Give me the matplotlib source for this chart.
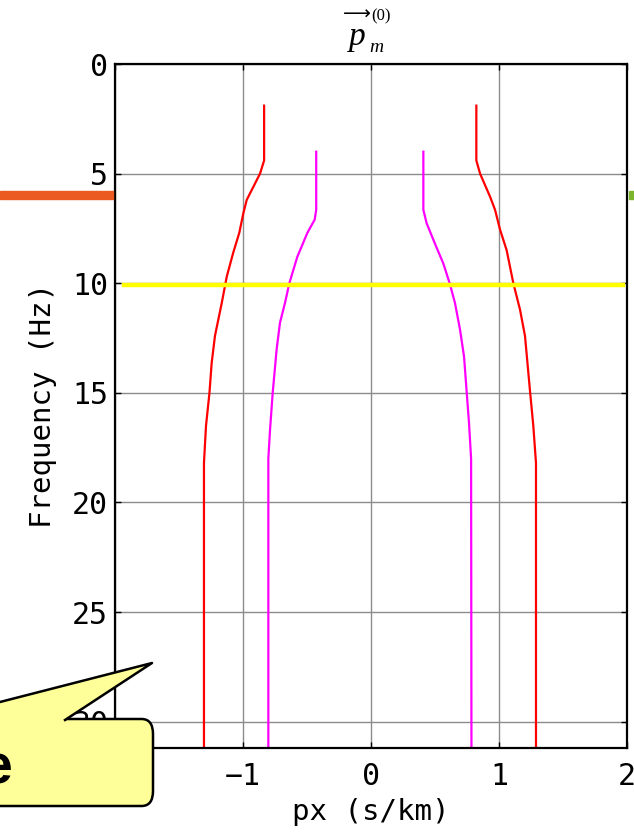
import numpy as np
import matplotlib
matplotlib.use('Agg')
import matplotlib.pyplot as plt
from matplotlib.patches import FancyBboxPatch, Polygon, Rectangle
from matplotlib.lines import Line2D

plt.rcParams['font.family'] = ['DejaVu Sans Mono', 'DejaVu Sans']
plt.rcParams['mathtext.fontset'] = 'stix'

# red branch (outer): frequency (Hz) and px (s/km)
red_f_left = [1.9, 4.4, 5.0, 6.2, 6.8, 7.7, 8.6, 9.7, 10.9, 12.4, 13.65, 15.0, 16.5, 18.2, 32.0]
red_left = [-0.835, -0.835, -0.867, -0.971, -0.997, -1.029, -1.076, -1.127, -1.166,
            -1.219, -1.245, -1.262, -1.289, -1.305, -1.305]
red_f_right = [1.9, 4.4, 5.0, 6.05, 6.65, 7.55, 8.5, 10.0, 11.2, 12.4, 14.9, 16.5, 18.2, 32.0]
red_right = [0.823, 0.823, 0.852, 0.930, 0.969, 1.008, 1.060, 1.112, 1.164, 1.203,
             1.242, 1.268, 1.289, 1.289]

# magenta branch (inner)
mag_f_left = [4.0, 6.65, 7.1, 7.7, 8.8, 10.0, 10.9, 11.8, 13.0, 15.0, 16.7, 18.0, 32.0]
mag_left = [-0.428, -0.428, -0.44, -0.497, -0.576, -0.638, -0.672, -0.711, -0.737,
            -0.768, -0.789, -0.802, -0.802]
mag_f_right = [4.0, 6.65, 7.27, 8.2, 9.1, 10.05, 10.9, 12.1, 13.35, 15.0, 16.4, 18.0, 32.0]
mag_right = [0.409, 0.409, 0.435, 0.50, 0.565, 0.617, 0.656, 0.695, 0.727, 0.748,
             0.766, 0.782, 0.785]

xticks = [-2, -1, 0, 1, 2]
xticklabels = ['\u22122', '\u22121', '0', '1', '2']
yticks = [0, 5, 10, 15, 20, 25, 30]
freq_mark = 10.08

W, H = 634, 835
fig = plt.figure(figsize=(W / 100, H / 100), dpi=100)
ax = fig.add_axes([115 / W, 1 - 748 / H, (627 - 115) / W, (748 - 64) / H])

def fx(px):
    return px / W

def fy(py):
    return 1 - py / H

ax.plot(red_left, red_f_left, color='#ff0000', lw=1.6)
ax.plot(red_right, red_f_right, color='#ff0000', lw=1.6)
ax.plot(mag_left, mag_f_left, color='#ff00ff', lw=1.6)
ax.plot(mag_right, mag_f_right, color='#ff00ff', lw=1.6)
ax.plot([-1.93, 1.97], [freq_mark, freq_mark], color='#ffff00', lw=3.2, zorder=3)

ax.set_xlim(-2, 2)
ax.set_ylim(31.2, 0)
ax.set_xticks(xticks)
ax.set_xticklabels(xticklabels)
ax.set_yticks(yticks)
ax.tick_params(direction='in', length=4, width=1, top=True, right=True,
               labelsize=21.5)
ax.tick_params(axis='x', pad=10)
ax.tick_params(axis='y', pad=5)
ax.grid(True, color='#8c8c8c', lw=1)
for s in ax.spines.values():
    s.set_linewidth(1.6)

ax.set_xlabel('px (s/km)', fontsize=21, labelpad=5)
ax.set_ylabel('Frequency (Hz)', fontsize=21, labelpad=11)

# title: arrow-vector p with subscript m and superscript (0)
serif = 'Liberation Serif'
fig.text(fx(357), fy(45), 'p', ha='center', va='baseline', fontsize=24,
         style='italic', family=serif)
fig.text(fx(376), fy(52), 'm', ha='center', va='baseline', fontsize=14,
         style='italic', family=serif)
fig.text(fx(357), fy(20), '\u27f6', ha='center', va='baseline', fontsize=14,
         family='DejaVu Sans')
fig.text(fx(381), fy(20), '(0)', ha='center', va='baseline', fontsize=12,
         family=serif)

# overlays from the slide
fig.patches.append(Rectangle((fx(0), fy(199)), fx(113), fy(191) - fy(199),
                             transform=fig.transFigure, color='#eb5a20'))
fig.patches.append(Rectangle((fx(629), fy(199)), fx(6), fy(191) - fy(199),
                             transform=fig.transFigure, color='#7cb52e'))

box = FancyBboxPatch((fx(-40), fy(806)), fx(193), fy(719) - fy(806),
                     boxstyle='round,pad=0,rounding_size=0.018',
                     transform=fig.transFigure, facecolor='#ffff99',
                     edgecolor='black', lw=1.8, zorder=5)
fig.patches.append(box)
tip = [(fx(-30), fy(709.7)), (fx(152), fy(663)), (fx(65), fy(720)),
       (fx(63), fy(722)), (fx(-30), fy(722))]
fig.patches.append(Polygon(tip, closed=True, transform=fig.transFigure,
                           facecolor='#ffff99', edgecolor='none', zorder=6))
fig.lines.append(Line2D([fx(-30), fx(152), fx(65)], [fy(709.7), fy(663), fy(720)],
                        transform=fig.transFigure, color='black', lw=1.8, zorder=7))
fig.text(fx(13), fy(783), 'e', ha='right', va='baseline', fontsize=40,
         fontweight='bold', family='Liberation Sans', zorder=8)
fig.text(fx(106), fy(831), 'o', ha='center', va='top', fontsize=16,
         fontweight='bold', family='Liberation Sans')

plt.savefig('out.png', dpi=100)
